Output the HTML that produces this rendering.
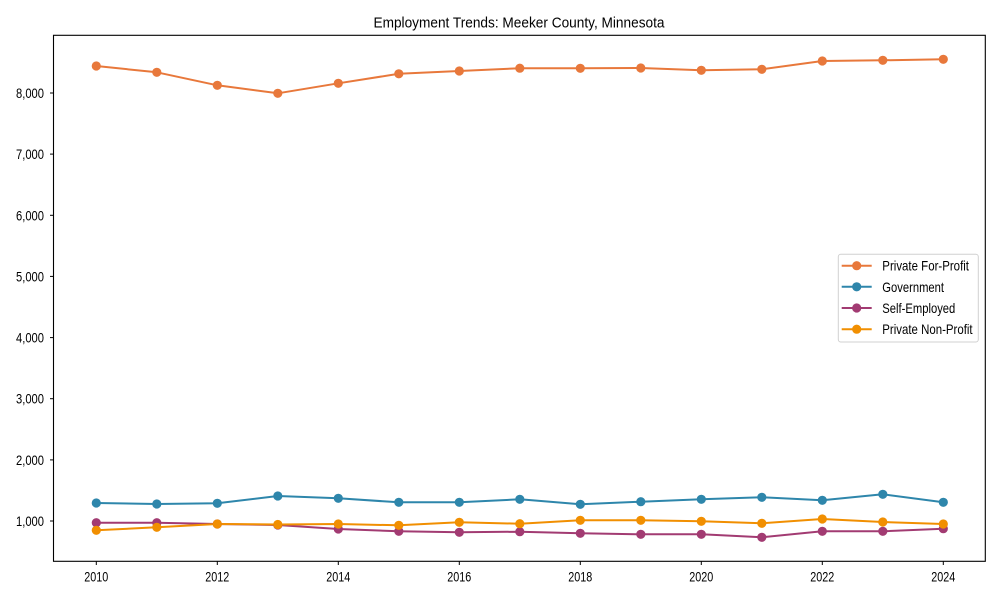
<!DOCTYPE html>
<html><head><meta charset="utf-8"><style>
html,body{margin:0;padding:0;background:#fff;}
svg{display:block;}
text{font-family:"Liberation Sans Narrow","Liberation Sans",Arial,sans-serif;fill:#000;}
</style></head><body>
<svg width="1000" height="600" viewBox="0 0 1000 600" xmlns="http://www.w3.org/2000/svg">
<rect x="0" y="0" width="1000" height="600" fill="#fff"/>
<text x="519" y="27.3" font-size="15" text-anchor="middle" textLength="291" lengthAdjust="spacingAndGlyphs">Employment Trends: Meeker County, Minnesota</text>

<!-- y ticks -->
<g stroke="#000" stroke-width="1">
<line x1="50" x2="53.5" y1="521" y2="521"/>
<line x1="50" x2="53.5" y1="459.9" y2="459.9"/>
<line x1="50" x2="53.5" y1="398.7" y2="398.7"/>
<line x1="50" x2="53.5" y1="337.6" y2="337.6"/>
<line x1="50" x2="53.5" y1="276.4" y2="276.4"/>
<line x1="50" x2="53.5" y1="215.3" y2="215.3"/>
<line x1="50" x2="53.5" y1="154.1" y2="154.1"/>
<line x1="50" x2="53.5" y1="93" y2="93"/>
</g>
<g font-size="14" text-anchor="end">
<text x="44" y="526" textLength="28" lengthAdjust="spacingAndGlyphs">1,000</text>
<text x="44" y="464.9" textLength="28" lengthAdjust="spacingAndGlyphs">2,000</text>
<text x="44" y="403.7" textLength="28" lengthAdjust="spacingAndGlyphs">3,000</text>
<text x="44" y="342.6" textLength="28" lengthAdjust="spacingAndGlyphs">4,000</text>
<text x="44" y="281.4" textLength="28" lengthAdjust="spacingAndGlyphs">5,000</text>
<text x="44" y="220.3" textLength="28" lengthAdjust="spacingAndGlyphs">6,000</text>
<text x="44" y="159.1" textLength="28" lengthAdjust="spacingAndGlyphs">7,000</text>
<text x="44" y="98" textLength="28" lengthAdjust="spacingAndGlyphs">8,000</text>
</g>

<!-- x ticks -->
<g stroke="#000" stroke-width="1">
<line x1="96.3" x2="96.3" y1="561.3" y2="565"/>
<line x1="217.3" x2="217.3" y1="561.3" y2="565"/>
<line x1="338.3" x2="338.3" y1="561.3" y2="565"/>
<line x1="459.3" x2="459.3" y1="561.3" y2="565"/>
<line x1="580.3" x2="580.3" y1="561.3" y2="565"/>
<line x1="701.3" x2="701.3" y1="561.3" y2="565"/>
<line x1="822.3" x2="822.3" y1="561.3" y2="565"/>
<line x1="943.3" x2="943.3" y1="561.3" y2="565"/>
</g>
<g font-size="14" text-anchor="middle">
<text x="96.3" y="581.7" textLength="24" lengthAdjust="spacingAndGlyphs">2010</text>
<text x="217.3" y="581.7" textLength="24" lengthAdjust="spacingAndGlyphs">2012</text>
<text x="338.3" y="581.7" textLength="24" lengthAdjust="spacingAndGlyphs">2014</text>
<text x="459.3" y="581.7" textLength="24" lengthAdjust="spacingAndGlyphs">2016</text>
<text x="580.3" y="581.7" textLength="24" lengthAdjust="spacingAndGlyphs">2018</text>
<text x="701.3" y="581.7" textLength="24" lengthAdjust="spacingAndGlyphs">2020</text>
<text x="822.3" y="581.7" textLength="24" lengthAdjust="spacingAndGlyphs">2022</text>
<text x="943.3" y="581.7" textLength="24" lengthAdjust="spacingAndGlyphs">2024</text>
</g>

<!-- series -->
<g fill="none" stroke-width="2" stroke-linejoin="round">
<polyline stroke="#E8783B" points="96.3,66 156.8,72.3 217.3,85.3 277.8,93.3 338.3,83.3 398.8,73.8 459.3,71 519.8,68.2 580.3,68.3 640.8,68 701.3,70.3 761.8,69.3 822.3,61 882.8,60.3 943.3,59.3"/>
<polyline stroke="#2E86AB" points="96.3,503 156.8,504 217.3,503.3 277.8,496 338.3,498.3 398.8,502.3 459.3,502.3 519.8,499.3 580.3,504.3 640.8,501.7 701.3,499.3 761.8,497.3 822.3,500.3 882.8,494.3 943.3,502.3"/>
<polyline stroke="#A23B72" points="96.3,522.7 156.8,522.7 217.3,524 277.8,525 338.3,529 398.8,531.3 459.3,532.3 519.8,531.7 580.3,533.3 640.8,534.3 701.3,534.3 761.8,537.3 822.3,531.3 882.8,531.3 943.3,528.7"/>
<polyline stroke="#F18F01" points="96.3,530.3 156.8,527.3 217.3,524 277.8,524.5 338.3,524 398.8,525.3 459.3,522.3 519.8,523.7 580.3,520.3 640.8,520.3 701.3,521.3 761.8,523.3 822.3,519 882.8,522 943.3,524"/>
</g>
<g fill="#E8783B">
<circle cx="96.3" cy="66" r="4.6"/><circle cx="156.8" cy="72.3" r="4.6"/><circle cx="217.3" cy="85.3" r="4.6"/><circle cx="277.8" cy="93.3" r="4.6"/><circle cx="338.3" cy="83.3" r="4.6"/><circle cx="398.8" cy="73.8" r="4.6"/><circle cx="459.3" cy="71" r="4.6"/><circle cx="519.8" cy="68.2" r="4.6"/><circle cx="580.3" cy="68.3" r="4.6"/><circle cx="640.8" cy="68" r="4.6"/><circle cx="701.3" cy="70.3" r="4.6"/><circle cx="761.8" cy="69.3" r="4.6"/><circle cx="822.3" cy="61" r="4.6"/><circle cx="882.8" cy="60.3" r="4.6"/><circle cx="943.3" cy="59.3" r="4.6"/>
</g>
<g fill="#2E86AB">
<circle cx="96.3" cy="503" r="4.6"/><circle cx="156.8" cy="504" r="4.6"/><circle cx="217.3" cy="503.3" r="4.6"/><circle cx="277.8" cy="496" r="4.6"/><circle cx="338.3" cy="498.3" r="4.6"/><circle cx="398.8" cy="502.3" r="4.6"/><circle cx="459.3" cy="502.3" r="4.6"/><circle cx="519.8" cy="499.3" r="4.6"/><circle cx="580.3" cy="504.3" r="4.6"/><circle cx="640.8" cy="501.7" r="4.6"/><circle cx="701.3" cy="499.3" r="4.6"/><circle cx="761.8" cy="497.3" r="4.6"/><circle cx="822.3" cy="500.3" r="4.6"/><circle cx="882.8" cy="494.3" r="4.6"/><circle cx="943.3" cy="502.3" r="4.6"/>
</g>
<g fill="#A23B72">
<circle cx="96.3" cy="522.7" r="4.6"/><circle cx="156.8" cy="522.7" r="4.6"/><circle cx="217.3" cy="524" r="4.6"/><circle cx="277.8" cy="525" r="4.6"/><circle cx="338.3" cy="529" r="4.6"/><circle cx="398.8" cy="531.3" r="4.6"/><circle cx="459.3" cy="532.3" r="4.6"/><circle cx="519.8" cy="531.7" r="4.6"/><circle cx="580.3" cy="533.3" r="4.6"/><circle cx="640.8" cy="534.3" r="4.6"/><circle cx="701.3" cy="534.3" r="4.6"/><circle cx="761.8" cy="537.3" r="4.6"/><circle cx="822.3" cy="531.3" r="4.6"/><circle cx="882.8" cy="531.3" r="4.6"/><circle cx="943.3" cy="528.7" r="4.6"/>
</g>
<g fill="#F18F01">
<circle cx="96.3" cy="530.3" r="4.6"/><circle cx="156.8" cy="527.3" r="4.6"/><circle cx="217.3" cy="524" r="4.6"/><circle cx="277.8" cy="524.5" r="4.6"/><circle cx="338.3" cy="524" r="4.6"/><circle cx="398.8" cy="525.3" r="4.6"/><circle cx="459.3" cy="522.3" r="4.6"/><circle cx="519.8" cy="523.7" r="4.6"/><circle cx="580.3" cy="520.3" r="4.6"/><circle cx="640.8" cy="520.3" r="4.6"/><circle cx="701.3" cy="521.3" r="4.6"/><circle cx="761.8" cy="523.3" r="4.6"/><circle cx="822.3" cy="519" r="4.6"/><circle cx="882.8" cy="522" r="4.6"/><circle cx="943.3" cy="524" r="4.6"/>
</g>

<!-- axes frame -->
<rect x="53.5" y="35.3" width="931.8" height="526" fill="none" stroke="#000" stroke-width="1.1"/>

<!-- legend -->
<rect x="838.3" y="254.3" width="140" height="87.7" rx="2.5" ry="2.5" fill="#fff" fill-opacity="0.8" stroke="#d0d0d0" stroke-width="1"/>
<g stroke-width="2">
<line x1="841.7" x2="871.7" y1="265.7" y2="265.7" stroke="#E8783B"/>
<line x1="841.7" x2="871.7" y1="286.8" y2="286.8" stroke="#2E86AB"/>
<line x1="841.7" x2="871.7" y1="308" y2="308" stroke="#A23B72"/>
<line x1="841.7" x2="871.7" y1="329.2" y2="329.2" stroke="#F18F01"/>
</g>
<circle cx="856.7" cy="265.7" r="4.6" fill="#E8783B"/>
<circle cx="856.7" cy="286.8" r="4.6" fill="#2E86AB"/>
<circle cx="856.7" cy="308" r="4.6" fill="#A23B72"/>
<circle cx="856.7" cy="329.2" r="4.6" fill="#F18F01"/>
<g font-size="14">
<text x="882.3" y="270.7" textLength="86.7" lengthAdjust="spacingAndGlyphs">Private For-Profit</text>
<text x="882.3" y="291.8" textLength="61.7" lengthAdjust="spacingAndGlyphs">Government</text>
<text x="882.3" y="313" textLength="73" lengthAdjust="spacingAndGlyphs">Self-Employed</text>
<text x="882.3" y="334.2" textLength="90.3" lengthAdjust="spacingAndGlyphs">Private Non-Profit</text>
</g>
</svg>
</body></html>
